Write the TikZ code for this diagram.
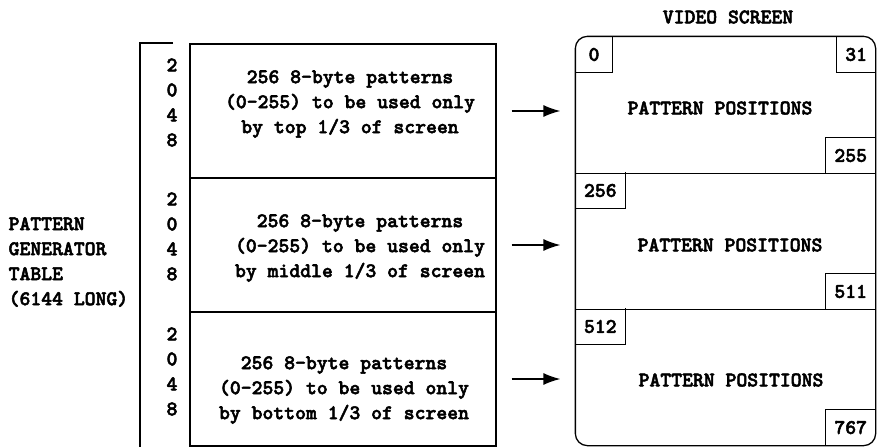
\documentclass[tikz,border=0pt]{standalone}
\usepackage{fontspec}
\newfontfamily\typerfont[FakeBold=2.5]{lmmonolt10-bold.otf}
\usetikzlibrary{arrows.meta}

\begin{document}
\begin{tikzpicture}[x=1pt,y=-1pt,>={Latex[length=17pt,width=12pt]},line width=1.3pt,
  font=\typerfont\fontsize{20.7}{25}\selectfont,
  row/.style={draw,minimum width=306pt,minimum height=134pt,inner sep=0pt},
  part/.style={minimum width=299pt,minimum height=136pt,inner sep=0pt},
  blk/.style={align=center,inner sep=0pt},
  corner/.style={minimum width=36pt,minimum height=35pt,inner xsep=8pt,inner ysep=0pt}]
\useasboundingbox (0,0) rectangle (881,447);
% pattern generator table
\draw (173,43) -- (140,43) -- (140,450);
\node[blk,align=left,anchor=west] (pgt) at (8,262) {PATTERN\\GENERATOR\\TABLE\\(6144 LONG)};
\node[row] (tblA) at (343,111) {};
\node[row] (tblB) at (343,245) {};
\node[row] (tblC) at (343,379) {};
\node[blk] (lenA) at (172,102.5) {2\\0\\4\\8};
\node[blk] (lenB) at (172,236.5) {2\\0\\4\\8};
\node[blk] (lenC) at (172,371.5) {2\\0\\4\\8};
\node[blk] (txtA) at (350,104) {256 8-byte patterns\\(0-255) to be used only\\by top 1/3 of screen};
\node[blk] (txtB) at (360,248) {256 8-byte patterns\\(0-255) to be used only\\by middle 1/3 of screen};
\node[blk] (txtC) at (344,390) {256 8-byte patterns\\(0-255) to be used only\\by bottom 1/3 of screen};
% video screen
\node[blk] (title) at (728,17) {VIDEO SCREEN};
\node[part] (scrA) at (725.5,105) {};
\node[part] (scrB) at (725.5,241) {};
\node[part] (scrC) at (725.5,377) {};
\draw[rounded corners=12pt] (scrA.north west) rectangle (scrC.south east);
\draw (scrA.south west) -- (scrA.south east);
\draw (scrB.south west) -- (scrB.south east);
\node[blk] (posA) at (720,108) {PATTERN POSITIONS};
\node[blk] (posB) at (730,245) {PATTERN POSITIONS};
\node[blk] (posC) at (731,380) {PATTERN POSITIONS};
\node[corner,anchor=north west] (c0) at (scrA.north west) {0};
\draw (c0.north east) |- (c0.south west);
\node[corner,anchor=north east] (c31) at (scrA.north east) {31};
\draw (c31.north west) |- (c31.south east);
\node[corner,anchor=south east] (c255) at (scrA.south east) {255};
\draw (c255.south west) |- (c255.north east);
\node[corner,anchor=north west] (c256) at (scrB.north west) {256};
\draw (c256.north east) |- (c256.south west);
\node[corner,anchor=south east] (c511) at (scrB.south east) {511};
\draw (c511.south west) |- (c511.north east);
\node[corner,anchor=north west] (c512) at (scrC.north west) {512};
\draw (c512.north east) |- (c512.south west);
\node[corner,anchor=south east] (c767) at (scrC.south east) {767};
\draw (c767.south west) |- (c767.north east);
% arrows
\draw[->,shorten <=15pt,shorten >=15pt] (tblA.east) -- (tblA.east -| scrA.west);
\draw[->,shorten <=15pt,shorten >=15pt] (tblB.east) -- (tblB.east -| scrB.west);
\draw[->,shorten <=15pt,shorten >=15pt] (tblC.east) -- (tblC.east -| scrC.west);
\end{tikzpicture}
\end{document}
